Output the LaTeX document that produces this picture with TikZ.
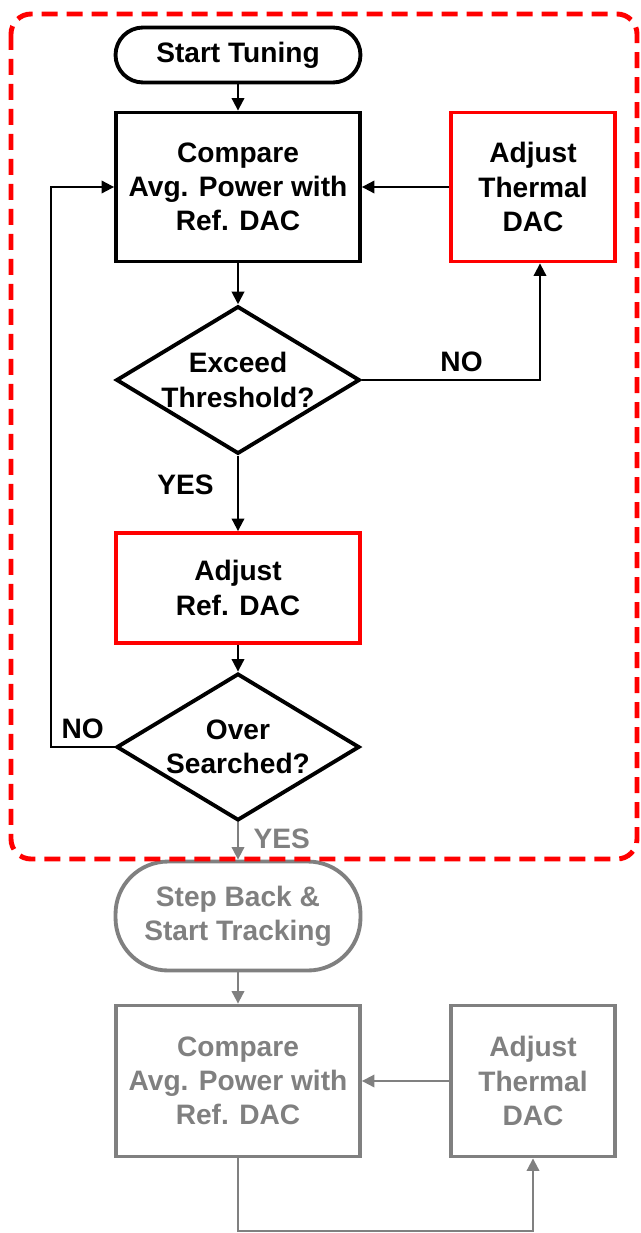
\documentclass[tikz,border=0pt]{standalone}
\usepackage{fontspec}
\setmainfont{Liberation Sans}
\usepackage{tikz}
\usetikzlibrary{arrows.meta, shapes.geometric}
\usepackage{xcolor}
\definecolor{alarm}{RGB}{255,0,0}
\definecolor{faded}{RGB}{128,128,128}

\begin{document}
\begin{tikzpicture}[x=0.02cm, y=-0.02cm,
    every node/.style={font=\fontsize{16}{19.5}\selectfont\bfseries, align=center},
    box/.style={draw, line width=2.2pt, minimum width=4.88cm, minimum height=2.98cm, inner sep=0pt},
    tbox/.style={box, minimum width=3.28cm},
    pill/.style={draw, line width=2.2pt, rounded corners=0.55cm, minimum width=4.9cm, minimum height=1.1cm},
    decide/.style={draw, diamond, line width=2.2pt, aspect=1.65, inner sep=0pt, minimum width=4.86cm, minimum height=2.94cm},
    arr/.style={-{Triangle[length=0.25cm, width=0.25cm]}, line width=1.1pt}]
  \useasboundingbox (0,0) rectangle (641,1233);
  % Tuning loop
  \node[pill] (start) at (238,55) {Start Tuning};
  \node[box] (cmp) at (238,187) {Compare\\Avg. Power with\\Ref. DAC};
  \node[tbox, alarm, text=black] (therm) at (533,187) {Adjust\\Thermal\\DAC};
  \node[decide] (exceed) at (238,380) {Exceed\\Threshold?};
  \node[box, alarm, text=black, minimum height=2.2cm] (refadj) at (238,588) {Adjust\\Ref. DAC};
  \node[decide] (over) at (238,747) {Over\\Searched?};
  \draw[arr] (start) -- (cmp);
  \draw[arr] (therm) -- (cmp);
  \draw[arr] (cmp) -- (exceed);
  \draw[arr] (exceed.east) -| node[pos=0.28, above=1pt] {NO} ([xshift=0.14cm]therm.south);
  \draw[arr] (exceed.south) -- node[pos=0.38, left=10pt] {YES} (refadj.north);
  \draw[arr] (refadj) -- (over);
  \draw[arr] (over.west) -- node[above=1pt] {NO} ++(-64,0) |- (cmp.west);
  % Tracking loop
  \node[pill, faded, rounded corners=1.05cm, minimum height=2.18cm] (back) at (238,916) {Step Back \&\\Start Tracking};
  \node[box, faded, minimum height=3.02cm] (cmp2) at (238,1081) {Compare\\Avg. Power with\\Ref. DAC};
  \node[tbox, faded, minimum height=3.02cm] (therm2) at (533,1081) {Adjust\\Thermal\\DAC};
  \coordinate (turn) at (238,1231);
  \draw[arr, faded] (over.south) -- node[right=5pt, pos=0.45, faded] {YES} (back.north);
  \draw[arr, faded] (back) -- (cmp2);
  \draw[arr, faded] (therm2) -- (cmp2);
  \draw[arr, faded] (cmp2.south) -- (turn) -| (therm2.south);
  % Tuning frame
  \draw[alarm, line width=2.8pt, dash pattern=on 0.32cm off 0.18cm, rounded corners=0.4cm] (11,14) rectangle (637,859);
\end{tikzpicture}
\end{document}
